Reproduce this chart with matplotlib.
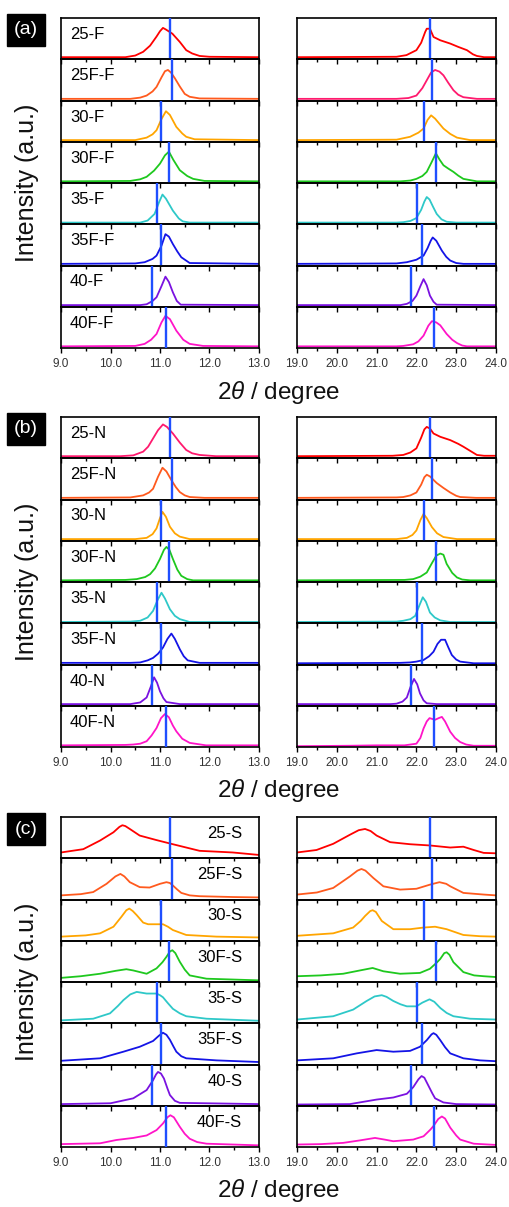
import matplotlib
matplotlib.use("Agg")
import matplotlib.pyplot as plt
from matplotlib.ticker import MultipleLocator, FormatStrFormatter

plt.rcParams['font.family'] = ['Liberation Sans', 'DejaVu Sans']
plt.rcParams['mathtext.fontset'] = 'custom'
plt.rcParams['mathtext.it'] = 'Liberation Sans:italic'
plt.rcParams['mathtext.rm'] = 'Liberation Sans'

# ---------------- data ----------------
LABELS_F = ['25-F', '25F-F', '30-F', '30F-F', '35-F', '35F-F', '40-F', '40F-F']
LABELS_N = ['25-N', '25F-N', '30-N', '30F-N', '35-N', '35F-N', '40-N', '40F-N']
LABELS_S = ['25-S', '25F-S', '30-S', '30F-S', '35-S', '35F-S', '40-S', '40F-S']

# reference peak positions (blue lines)
VLINE_LEFT = [11.21, 11.24, 11.03, 11.18, 10.93, 11.03, 10.84, 11.13]
VLINE_RIGHT = [22.35, 22.39, 22.19, 22.49, 22.01, 22.14, 21.87, 22.44]

COLORS_STD = ['#ff0000', '#ff5a1e', '#ffa500', '#1ec81e', '#2ec8c8', '#1414e6', '#7a12e0', '#ff14c8']
COLORS_A_R = ['#ff0000', '#ff1a6e', '#ffa500', '#1ec81e', '#2ec8c8', '#1414e6', '#7a12e0', '#ff14c8']
COLORS_B_L = ['#ff1a6e', '#ff5a1e', '#ffa500', '#1ec81e', '#2ec8c8', '#1414e6', '#7a12e0', '#ff14c8']

# normalized intensity (fraction of panel height)
A_LEFT = [
    [(9.0, .05), (10.3, .05), (10.5, .09), (10.66, .18), (10.8, .33), (10.93, .55), (11.0, .68), (11.06, .76), (11.12, .72), (11.25, .62), (11.4, .42), (11.53, .22), (11.65, .14), (11.8, .08), (12.0, .06), (13.0, .05)],
    [(9.0, .04), (10.4, .04), (10.6, .07), (10.73, .12), (10.85, .22), (10.93, .33), (11.03, .56), (11.1, .71), (11.16, .74), (11.22, .68), (11.3, .54), (11.4, .34), (11.5, .16), (11.6, .09), (11.8, .05), (13.0, .04)],
    [(9.0, .04), (10.5, .04), (10.73, .1), (10.85, .18), (10.93, .28), (11.03, .55), (11.12, .74), (11.2, .65), (11.33, .36), (11.45, .2), (11.53, .12), (11.7, .06), (13.0, .04)],
    [(9.0, .04), (10.4, .05), (10.6, .09), (10.73, .15), (10.88, .3), (11.0, .47), (11.1, .67), (11.18, .76), (11.27, .56), (11.4, .31), (11.55, .17), (11.67, .1), (11.9, .05), (13.0, .04)],
    [(9.0, .04), (10.6, .04), (10.75, .09), (10.89, .25), (10.98, .53), (11.05, .72), (11.12, .62), (11.26, .33), (11.38, .14), (11.46, .07), (11.6, .04), (13.0, .04)],
    [(9.0, .04), (10.5, .05), (10.69, .08), (10.85, .16), (10.93, .24), (11.03, .48), (11.11, .76), (11.18, .7), (11.26, .52), (11.35, .34), (11.43, .2), (11.6, .06), (13.0, .04)],
    [(9.0, .04), (10.6, .04), (10.73, .06), (10.85, .14), (10.93, .23), (11.03, .5), (11.11, .73), (11.18, .6), (11.26, .35), (11.34, .14), (11.42, .05), (13.0, .04)],
    [(9.0, .04), (10.5, .05), (10.69, .1), (10.82, .2), (10.93, .34), (11.03, .62), (11.11, .78), (11.2, .7), (11.33, .42), (11.47, .2), (11.6, .1), (11.87, .05), (13.0, .04)],
]
A_RIGHT = [
    [(19.0, .05), (21.5, .06), (21.75, .1), (22.0, .22), (22.12, .4), (22.22, .66), (22.26, .74), (22.34, .74), (22.43, .54), (22.6, .46), (22.85, .38), (23.05, .3), (23.27, .22), (23.42, .12), (23.52, .08), (23.7, .05), (24.0, .05)],
    [(19.0, .04), (21.5, .04), (21.8, .06), (22.0, .12), (22.15, .3), (22.26, .49), (22.37, .68), (22.47, .74), (22.58, .7), (22.68, .61), (22.8, .43), (22.93, .25), (23.05, .14), (23.18, .08), (23.52, .04), (24.0, .04)],
    [(19.0, .04), (21.5, .05), (21.84, .12), (22.05, .22), (22.18, .32), (22.28, .53), (22.37, .64), (22.47, .56), (22.68, .32), (22.85, .19), (23.02, .1), (23.35, .04), (24.0, .04)],
    [(19.0, .04), (21.6, .04), (21.85, .06), (22.0, .1), (22.15, .17), (22.26, .27), (22.38, .5), (22.49, .72), (22.58, .57), (22.68, .43), (22.8, .35), (22.93, .27), (23.05, .18), (23.18, .1), (23.52, .04), (24.0, .04)],
    [(19.0, .04), (21.5, .04), (21.67, .05), (21.85, .08), (22.0, .15), (22.12, .35), (22.2, .55), (22.26, .66), (22.33, .6), (22.42, .42), (22.51, .25), (22.63, .12), (22.76, .06), (23.0, .04), (24.0, .04)],
    [(19.0, .04), (21.5, .05), (21.76, .08), (22.0, .14), (22.18, .24), (22.28, .42), (22.36, .6), (22.41, .68), (22.5, .6), (22.64, .36), (22.75, .21), (22.85, .12), (23.0, .06), (23.18, .04), (24.0, .04)],
    [(19.0, .04), (21.6, .04), (21.76, .07), (21.9, .14), (22.0, .27), (22.1, .5), (22.18, .67), (22.26, .52), (22.34, .27), (22.43, .12), (22.51, .05), (24.0, .04)],
    [(19.0, .04), (21.5, .04), (21.67, .05), (21.92, .09), (22.05, .16), (22.18, .3), (22.3, .54), (22.39, .65), (22.5, .62), (22.6, .55), (22.76, .34), (22.9, .2), (23.02, .12), (23.15, .06), (23.27, .04), (24.0, .04)],
]
B_LEFT = [
    [(9.0, .05), (10.2, .05), (10.46, .07), (10.66, .16), (10.76, .28), (10.86, .48), (10.96, .68), (11.06, .82), (11.14, .76), (11.26, .6), (11.4, .38), (11.53, .2), (11.65, .12), (11.8, .08), (12.13, .05), (13.0, .05)],
    [(9.0, .04), (10.4, .05), (10.66, .1), (10.78, .17), (10.86, .26), (10.96, .55), (11.05, .77), (11.13, .68), (11.23, .47), (11.32, .3), (11.4, .18), (11.5, .1), (11.6, .06), (11.9, .04), (13.0, .04)],
    [(9.0, .04), (10.5, .04), (10.73, .07), (10.85, .16), (10.93, .3), (11.0, .55), (11.05, .7), (11.12, .58), (11.2, .34), (11.3, .18), (11.4, .1), (11.6, .04), (13.0, .04)],
    [(9.0, .04), (10.3, .05), (10.53, .07), (10.7, .12), (10.8, .19), (10.9, .33), (11.0, .56), (11.08, .78), (11.13, .85), (11.19, .78), (11.26, .56), (11.35, .3), (11.43, .15), (11.55, .07), (11.67, .04), (13.0, .04)],
    [(9.0, .03), (10.4, .04), (10.6, .06), (10.75, .14), (10.86, .3), (10.95, .56), (11.03, .74), (11.1, .6), (11.2, .34), (11.3, .18), (11.4, .1), (11.6, .03), (13.0, .03)],
    [(9.0, .04), (10.4, .04), (10.6, .05), (10.75, .1), (10.86, .16), (10.96, .26), (11.06, .41), (11.15, .62), (11.23, .75), (11.3, .62), (11.4, .37), (11.48, .2), (11.56, .1), (11.8, .04), (13.0, .04)],
    [(9.0, .04), (10.4, .04), (10.6, .08), (10.73, .2), (10.81, .45), (10.88, .69), (10.94, .56), (11.0, .35), (11.07, .18), (11.13, .09), (11.4, .04), (13.0, .04)],
    [(9.0, .04), (10.3, .05), (10.46, .06), (10.6, .08), (10.73, .14), (10.83, .28), (10.93, .46), (11.02, .7), (11.1, .8), (11.18, .72), (11.26, .52), (11.33, .38), (11.45, .2), (11.6, .1), (11.93, .04), (13.0, .04)],
]
B_RIGHT = [
    [(19.0, .05), (21.4, .06), (21.67, .08), (21.85, .14), (22.0, .24), (22.12, .5), (22.2, .7), (22.26, .76), (22.34, .72), (22.43, .6), (22.6, .52), (22.85, .44), (23.05, .35), (23.18, .28), (23.35, .18), (23.52, .08), (23.7, .06), (24.0, .06)],
    [(19.0, .04), (21.5, .05), (21.67, .06), (21.85, .1), (22.0, .17), (22.12, .36), (22.2, .54), (22.26, .6), (22.34, .56), (22.51, .4), (22.68, .28), (22.85, .17), (23.0, .09), (23.1, .06), (23.5, .04), (24.0, .04)],
    [(19.0, .04), (21.5, .04), (21.76, .07), (21.9, .14), (22.0, .25), (22.1, .5), (22.18, .65), (22.26, .55), (22.39, .33), (22.52, .18), (22.68, .09), (23.02, .04), (24.0, .04)],
    [(19.0, .04), (21.7, .05), (21.92, .07), (22.1, .13), (22.26, .23), (22.38, .44), (22.5, .64), (22.6, .69), (22.68, .66), (22.76, .44), (22.9, .22), (23.02, .11), (23.15, .06), (23.35, .04), (24.0, .04)],
    [(19.0, .03), (21.5, .04), (21.67, .06), (21.85, .1), (21.97, .18), (22.07, .42), (22.16, .63), (22.24, .52), (22.34, .26), (22.46, .14), (22.6, .07), (22.85, .03), (24.0, .03)],
    [(19.0, .03), (21.6, .04), (21.84, .05), (22.0, .07), (22.18, .11), (22.32, .2), (22.43, .31), (22.53, .5), (22.62, .6), (22.72, .6), (22.8, .42), (22.89, .23), (23.0, .12), (23.1, .07), (23.44, .03), (24.0, .03)],
    [(19.0, .04), (21.35, .04), (21.5, .05), (21.65, .1), (21.76, .2), (21.85, .45), (21.94, .65), (22.02, .52), (22.09, .3), (22.18, .13), (22.26, .06), (22.51, .04), (24.0, .04)],
    [(19.0, .02), (20.3, .03), (21.0, .04), (21.7, .04), (22.0, .08), (22.1, .22), (22.18, .45), (22.26, .62), (22.33, .7), (22.4, .68), (22.47, .66), (22.56, .7), (22.64, .73), (22.72, .62), (22.85, .37), (22.97, .22), (23.1, .12), (23.25, .06), (23.44, .03), (24.0, .03)],
]
C_LEFT = [
    [(9.0, .14), (9.45, .22), (9.79, .43), (10.06, .63), (10.18, .76), (10.24, .8), (10.3, .78), (10.39, .71), (10.59, .55), (10.93, .44), (11.26, .34), (11.53, .26), (11.8, .18), (12.14, .16), (12.47, .14), (13.0, .08)],
    [(9.0, .1), (9.4, .13), (9.65, .18), (9.92, .38), (10.1, .56), (10.2, .62), (10.28, .56), (10.39, .42), (10.59, .3), (10.79, .29), (11.0, .38), (11.13, .42), (11.2, .4), (11.26, .34), (11.35, .24), (11.43, .16), (11.6, .1), (11.8, .08), (12.47, .06), (13.0, .05)],
    [(9.0, .1), (9.5, .13), (9.79, .18), (10.06, .34), (10.22, .58), (10.32, .74), (10.38, .78), (10.45, .72), (10.53, .62), (10.66, .44), (10.76, .4), (10.86, .4), (11.06, .4), (11.16, .34), (11.26, .26), (11.53, .14), (12.14, .1), (13.0, .08)],
    [(9.0, .1), (9.4, .14), (9.79, .2), (10.1, .27), (10.32, .31), (10.46, .28), (10.73, .2), (10.93, .33), (11.05, .48), (11.13, .61), (11.2, .74), (11.25, .77), (11.31, .7), (11.4, .49), (11.5, .3), (11.6, .16), (11.94, .08), (13.0, .04)],
    [(9.0, .07), (9.65, .11), (9.99, .24), (10.15, .42), (10.26, .56), (10.4, .7), (10.53, .76), (10.63, .74), (10.73, .72), (10.93, .72), (11.0, .68), (11.06, .63), (11.15, .5), (11.26, .35), (11.4, .24), (11.53, .17), (11.94, .11), (13.0, .06)],
    [(9.0, .09), (9.79, .15), (10.26, .31), (10.59, .43), (10.86, .57), (10.98, .7), (11.06, .77), (11.13, .72), (11.2, .6), (11.27, .44), (11.33, .31), (11.43, .2), (11.53, .15), (12.14, .1), (13.0, .06)],
    [(9.0, .04), (10.0, .06), (10.46, .18), (10.73, .38), (10.86, .62), (10.92, .76), (10.96, .82), (11.02, .78), (11.08, .66), (11.15, .42), (11.2, .26), (11.3, .12), (11.4, .07), (13.0, .04)],
    [(9.0, .07), (9.79, .09), (10.12, .17), (10.46, .22), (10.73, .28), (10.93, .41), (11.06, .57), (11.15, .72), (11.21, .77), (11.28, .72), (11.4, .49), (11.5, .32), (11.6, .2), (11.75, .12), (11.94, .08), (13.0, .04)],
]
C_RIGHT = [
    [(19.0, .14), (19.49, .2), (19.91, .35), (20.33, .57), (20.55, .68), (20.71, .71), (20.85, .66), (21.0, .55), (21.34, .39), (21.84, .34), (22.34, .31), (22.85, .26), (23.18, .28), (23.44, .2), (23.69, .13), (24.0, .12)],
    [(19.0, .12), (19.5, .17), (19.91, .28), (20.33, .56), (20.52, .7), (20.62, .74), (20.72, .7), (20.92, .52), (21.17, .32), (21.59, .24), (22.0, .26), (22.34, .36), (22.58, .42), (22.75, .38), (22.85, .32), (23.18, .16), (23.69, .12), (24.0, .1)],
    [(19.0, .12), (19.91, .18), (20.41, .32), (20.6, .48), (20.71, .6), (20.84, .72), (20.9, .74), (20.98, .7), (21.13, .48), (21.42, .28), (21.84, .28), (22.18, .32), (22.47, .34), (22.76, .28), (23.18, .14), (23.6, .11), (24.0, .1)],
    [(19.0, .14), (19.6, .16), (20.16, .2), (20.58, .28), (20.9, .34), (21.17, .26), (21.59, .2), (22.09, .22), (22.34, .32), (22.5, .46), (22.6, .56), (22.7, .7), (22.76, .72), (22.83, .66), (22.93, .48), (23.18, .24), (23.45, .16), (23.69, .14), (24.0, .12)],
    [(19.0, .09), (19.91, .17), (20.41, .33), (20.75, .54), (20.95, .65), (21.13, .68), (21.25, .64), (21.42, .54), (21.6, .46), (21.76, .41), (22.0, .41), (22.15, .5), (22.33, .58), (22.45, .52), (22.6, .37), (22.76, .25), (22.93, .17), (23.35, .11), (24.0, .09)],
    [(19.0, .1), (19.91, .15), (20.5, .27), (21.0, .35), (21.42, .31), (21.84, .33), (22.09, .43), (22.26, .59), (22.38, .73), (22.43, .76), (22.5, .72), (22.6, .59), (22.72, .42), (22.85, .27), (23.18, .15), (23.6, .1), (24.0, .08)],
    [(19.0, .03), (20.33, .04), (21.0, .15), (21.42, .2), (21.76, .29), (21.92, .45), (22.05, .64), (22.13, .72), (22.2, .68), (22.3, .49), (22.4, .3), (22.47, .18), (22.68, .08), (23.0, .04), (24.0, .03)],
    [(19.0, .06), (19.6, .07), (20.16, .1), (20.58, .16), (20.96, .22), (21.2, .18), (21.42, .14), (21.92, .18), (22.18, .26), (22.35, .42), (22.43, .51), (22.55, .68), (22.64, .74), (22.72, .69), (22.85, .47), (23.0, .28), (23.1, .18), (23.44, .08), (24.0, .05)],
]

# ---------------- layout ----------------
W, H = 510, 1207
fig = plt.figure(figsize=(W / 100, H / 100), dpi=100)
fig.patch.set_facecolor('white')

LEFT_X = (61, 259)
RIGHT_X = (297, 496)
GROUP_TOPS = [18, 417, 817]
GROUP_H = 330
NP = 8
PH = GROUP_H / NP

groups = [
    ('(a)', LABELS_F, A_LEFT, A_RIGHT, COLORS_STD, COLORS_A_R, 'left'),
    ('(b)', LABELS_N, B_LEFT, B_RIGHT, COLORS_B_L, COLORS_STD, 'left'),
    ('(c)', LABELS_S, C_LEFT, C_RIGHT, COLORS_STD, COLORS_STD, 'right'),
]

VCOL = '#1f4fff'
TICKCOL = '#333333'


def make_ax(xr, ytop, ybot):
    ax = fig.add_axes([xr[0] / W, 1 - ybot / H, (xr[1] - xr[0]) / W, (ybot - ytop) / H])
    ax.set_facecolor('none')
    return ax


for g, (tag, labels, left_data, right_data, lcols, rcols, lab_side) in enumerate(groups):
    top = GROUP_TOPS[g]
    for col, (xr, data, cols, vl, xlim, maj) in enumerate([
            (LEFT_X, left_data, lcols, VLINE_LEFT, (9.0, 13.0), 1.0),
            (RIGHT_X, right_data, rcols, VLINE_RIGHT, (19.0, 24.0), 1.0)]):
        for i in range(NP):
            ax = make_ax(xr, top + i * PH, top + (i + 1) * PH)
            xs = [p[0] for p in data[i]]
            ys = [p[1] for p in data[i]]
            ax.plot(xs, ys, color=cols[i], lw=1.3, solid_joinstyle='round')
            ax.axvline(vl[i], color=VCOL, lw=1.7, zorder=3)
            ax.set_xlim(*xlim)
            ax.set_ylim(0, 1)
            ax.set_yticks([])
            ax.xaxis.set_major_locator(MultipleLocator(maj))
            ax.xaxis.set_minor_locator(MultipleLocator(0.5))
            ax.xaxis.set_major_formatter(FormatStrFormatter('%.1f'))
            ax.tick_params(axis='x', which='both', direction='out', bottom=True, top=False,
                           labelbottom=(i == NP - 1), width=1.0, labelsize=8.5, pad=4,
                           color='black', labelcolor=TICKCOL)
            ax.tick_params(axis='x', which='major', length=3.5)
            ax.tick_params(axis='x', which='minor', length=2.2)
            for s in ax.spines.values():
                s.set_linewidth(1.2)
                s.set_color('black')
            if col == 0:
                if lab_side == 'left':
                    ax.text(0.045, 0.6, labels[i], transform=ax.transAxes, ha='left',
                            va='center', fontsize=12, color='black')
                else:
                    ax.text(0.915, 0.6, labels[i], transform=ax.transAxes, ha='right',
                            va='center', fontsize=12, color='black')
    # group decorations
    fig.text(278.5 / W, 1 - (top + GROUP_H + 44) / H, r'2$\mathit{\theta}$ / degree',
             ha='center', va='center', fontsize=17.5, color='#111111')
    fig.text(27 / W, 1 - (top + GROUP_H / 2) / H, 'Intensity (a.u.)', rotation=90,
             ha='center', va='center', fontsize=18, color='#111111')
    fig.text(26 / W, 1 - (top + 12) / H, tag, color='white', ha='center', va='center',
             fontsize=14, bbox=dict(facecolor='black', edgecolor='black',
                                    boxstyle='square,pad=0.38'))

fig.savefig('out.png', dpi=100, facecolor='white')
